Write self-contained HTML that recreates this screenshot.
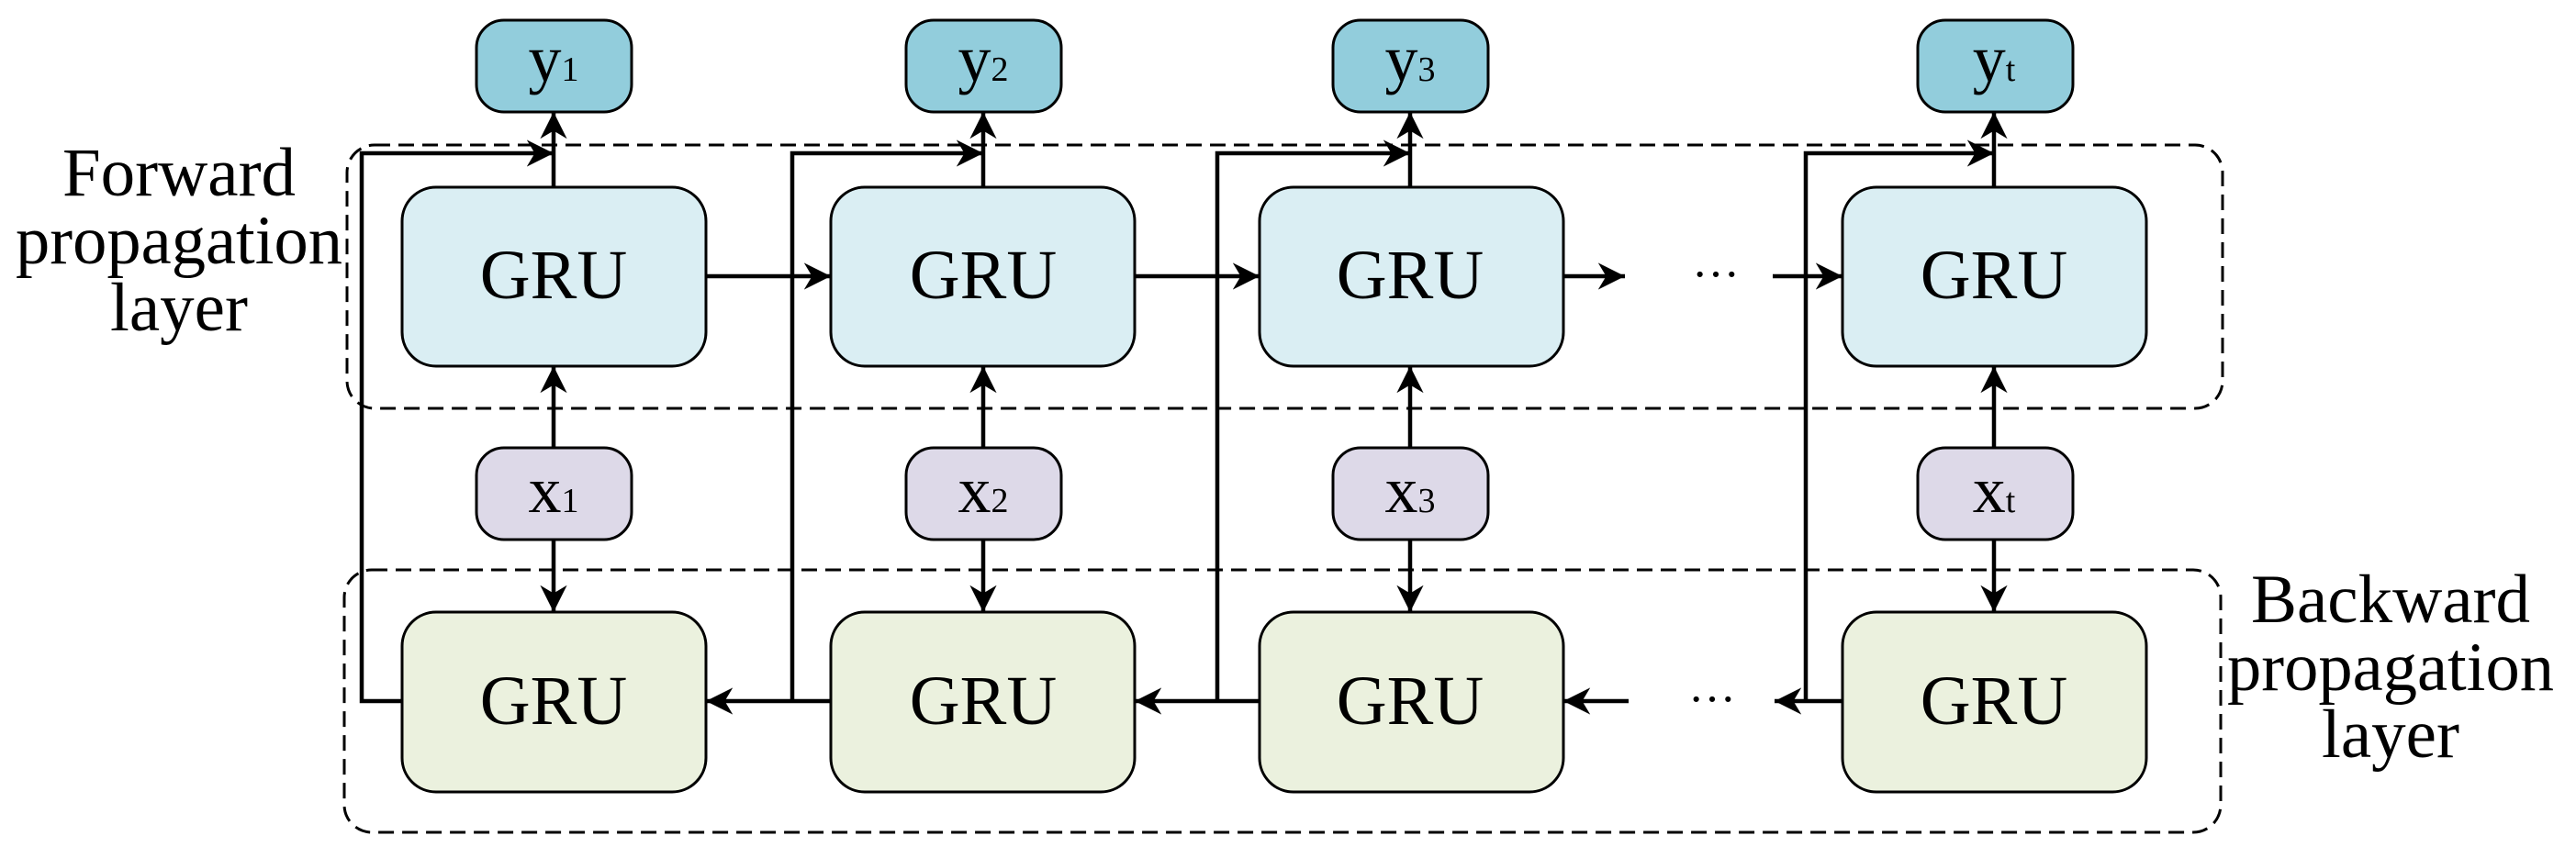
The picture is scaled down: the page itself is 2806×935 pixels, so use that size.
<!DOCTYPE html>
<html><head><meta charset="utf-8"><style>html,body{margin:0;padding:0;background:#fff}svg{display:block}</style></head>
<body>
<svg width="2806" height="935" viewBox="0 0 2806 935" xmlns="http://www.w3.org/2000/svg" font-family="Liberation Serif, serif">
<defs>
<marker id="a" viewBox="0 0 10 10" refX="10" refY="5" markerWidth="6.5" markerHeight="6.5" orient="auto-start-reverse" markerUnits="strokeWidth"><path d="M0,0 L10,5 L0,10 L3,5 z" fill="#000"/></marker>
</defs>
<rect x="378" y="158" width="2043" height="287" rx="30" fill="none" stroke="#000" stroke-width="3" stroke-dasharray="17 9"/>
<rect x="375" y="621" width="2044" height="286" rx="30" fill="none" stroke="#000" stroke-width="3" stroke-dasharray="17 9"/>
<g font-size="75" text-anchor="middle" fill="#000">
<text x="195" y="213">Forward</text>
<text x="195" y="287" textLength="356" lengthAdjust="spacingAndGlyphs">propagation</text>
<text x="195" y="360">layer</text>
<text x="2604" y="678">Backward</text>
<text x="2604" y="752" textLength="356" lengthAdjust="spacingAndGlyphs">propagation</text>
<text x="2604" y="825">layer</text>
</g>
<g stroke="#000" stroke-width="4.5" fill="none">
<line x1="769" y1="301" x2="905" y2="301" marker-end="url(#a)"/>
<line x1="1236" y1="301" x2="1372" y2="301" marker-end="url(#a)"/>
<line x1="1703" y1="301" x2="1770" y2="301" marker-end="url(#a)"/>
<line x1="1931" y1="301" x2="2007" y2="301" marker-end="url(#a)"/>
<line x1="905" y1="764" x2="769" y2="764" marker-end="url(#a)"/>
<line x1="1372" y1="764" x2="1236" y2="764" marker-end="url(#a)"/>
<line x1="1774" y1="764" x2="1703" y2="764" marker-end="url(#a)"/>
<line x1="2007" y1="764" x2="1933" y2="764" marker-end="url(#a)"/>
<polyline points="438,764 394,764 394,167 603,167" marker-end="url(#a)"/>
<polyline points="863,764 863,167 1071,167" marker-end="url(#a)"/>
<polyline points="1326,764 1326,167 1536,167" marker-end="url(#a)"/>
<polyline points="1967,764 1967,167 2172,167" marker-end="url(#a)"/>
<line x1="603" y1="204" x2="603" y2="122" marker-end="url(#a)"/>
<line x1="1071" y1="204" x2="1071" y2="122" marker-end="url(#a)"/>
<line x1="1536" y1="204" x2="1536" y2="122" marker-end="url(#a)"/>
<line x1="2172" y1="204" x2="2172" y2="122" marker-end="url(#a)"/>
<line x1="603" y1="488" x2="603" y2="399" marker-end="url(#a)"/>
<line x1="1071" y1="488" x2="1071" y2="399" marker-end="url(#a)"/>
<line x1="1536" y1="488" x2="1536" y2="399" marker-end="url(#a)"/>
<line x1="2172" y1="488" x2="2172" y2="399" marker-end="url(#a)"/>
<line x1="603" y1="588" x2="603" y2="667" marker-end="url(#a)"/>
<line x1="1071" y1="588" x2="1071" y2="667" marker-end="url(#a)"/>
<line x1="1536" y1="588" x2="1536" y2="667" marker-end="url(#a)"/>
<line x1="2172" y1="588" x2="2172" y2="667" marker-end="url(#a)"/>
</g>
<g font-size="52" text-anchor="middle"><text x="1869" y="316">···</text><text x="1865" y="779">···</text></g>
<g stroke="#000" stroke-width="3">
<g fill="#DAEEF3">
<rect x="438" y="204" width="331" height="195" rx="37"/>
<rect x="905" y="204" width="331" height="195" rx="37"/>
<rect x="1372" y="204" width="331" height="195" rx="37"/>
<rect x="2007" y="204" width="331" height="195" rx="37"/>
</g>
<g fill="#EBF1DE">
<rect x="438" y="667" width="331" height="196" rx="37"/>
<rect x="905" y="667" width="331" height="196" rx="37"/>
<rect x="1372" y="667" width="331" height="196" rx="37"/>
<rect x="2007" y="667" width="331" height="196" rx="37"/>
</g>
<g fill="#92CDDC">
<rect x="519" y="22" width="169" height="100" rx="30"/>
<rect x="987" y="22" width="169" height="100" rx="30"/>
<rect x="1452" y="22" width="169" height="100" rx="30"/>
<rect x="2089" y="22" width="169" height="100" rx="30"/>
</g>
<g fill="#DDD9E8">
<rect x="519" y="488" width="169" height="100" rx="30"/>
<rect x="987" y="488" width="169" height="100" rx="30"/>
<rect x="1452" y="488" width="169" height="100" rx="30"/>
<rect x="2089" y="488" width="169" height="100" rx="30"/>
</g>
</g>
<g font-size="76" text-anchor="middle">
<text x="603" y="325">GRU</text><text x="1071" y="325">GRU</text><text x="1536" y="325">GRU</text><text x="2172" y="325">GRU</text>
<text x="603" y="789">GRU</text><text x="1071" y="789">GRU</text><text x="1536" y="789">GRU</text><text x="2172" y="789">GRU</text>
</g>
<g font-size="72" text-anchor="middle">
<text x="603" y="88">y<tspan font-size="38">1</tspan></text>
<text x="1071" y="88">y<tspan font-size="38">2</tspan></text>
<text x="1536" y="88">y<tspan font-size="38">3</tspan></text>
<text x="2172" y="88">y<tspan font-size="38">t</tspan></text>
<text x="603" y="558">x<tspan font-size="38">1</tspan></text>
<text x="1071" y="558">x<tspan font-size="38">2</tspan></text>
<text x="1536" y="558">x<tspan font-size="38">3</tspan></text>
<text x="2172" y="558">x<tspan font-size="38">t</tspan></text>
</g>
</svg>
</body></html>
